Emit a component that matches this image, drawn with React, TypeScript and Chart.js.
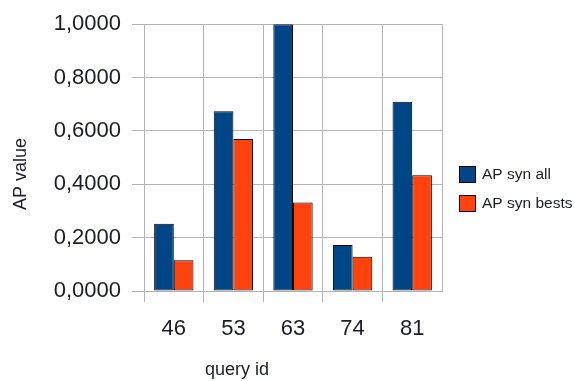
import React, { useEffect, useRef } from "react";
import { Chart, registerables } from "chart.js";

Chart.register(...registerables);

const categories = ["46", "53", "63", "74", "81"];
const apSynAll = [0.252, 0.674, 1.0, 0.172, 0.709];
const apSynBests = [0.115, 0.570, 0.332, 0.128, 0.434];
const seriesLabels = ["AP syn all", "AP syn bests"];
const seriesColors = ["#004586", "#ff420e"];
const yTitle = "AP value";
const xTitle = "query id";

const FONT = "'Liberation Sans', Arial, sans-serif";
const GRID = "#b3b3b3";
const TEXT = "#1c1c28";

const overlayPlugin = {
  id: "overlay",
  afterDraw(chart: any) {
    const ctx = chart.ctx;
    ctx.save();
    ctx.fillStyle = TEXT;
    // y title
    ctx.font = `18px ${FONT}`;
    ctx.textAlign = "center";
    ctx.textBaseline = "middle";
    ctx.save();
    ctx.translate(21, 174);
    ctx.rotate(-Math.PI / 2);
    ctx.fillText(yTitle, 0, 0);
    ctx.restore();
    // x title
    ctx.fillText(xTitle, 237, 370);
    // legend
    ctx.font = `15.5px ${FONT}`;
    ctx.textAlign = "left";
    chart.data.datasets.forEach((ds: any, i: number) => {
      const y = 166 + i * 29;
      ctx.fillStyle = ds.backgroundColor;
      ctx.fillRect(459.5, y + 0.5, 16, 16);
      ctx.strokeStyle = "#000";
      ctx.lineWidth = 1;
      ctx.strokeRect(459.5, y + 0.5, 16, 16);
      ctx.fillStyle = TEXT;
      ctx.fillText(ds.label, 482, y + 9);
    });
    ctx.restore();
  },
};

export default function App() {
  const ref = useRef<HTMLCanvasElement>(null);
  useEffect(() => {
    if (!ref.current) return;
    const chart = new Chart(ref.current, {
      type: "bar",
      data: {
        labels: categories,
        datasets: [
          {
            label: seriesLabels[0],
            data: apSynAll,
            backgroundColor: seriesColors[0],
            borderColor: "#000",
            borderWidth: 1,
            borderSkipped: false,
          },
          {
            label: seriesLabels[1],
            data: apSynBests,
            backgroundColor: seriesColors[1],
            borderColor: "#000",
            borderWidth: 1,
            borderSkipped: false,
          },
        ],
      },
      options: {
        responsive: false,
        animation: false,
        devicePixelRatio: 1,
        layout: { padding: { left: 0, top: 22, right: 133, bottom: 0 } },
        plugins: {
          legend: { display: false },
          tooltip: { enabled: false },
        },
        datasets: {
          bar: { categoryPercentage: 0.66, barPercentage: 1 },
        },
        scales: {
          x: {
            afterFit: (s: any) => {
              s.height = 90;
            },
            grid: {
              color: GRID,
              lineWidth: 1,
              tickLength: 11,
              tickColor: (c: any) => (c.index === undefined ? "transparent" : GRID),
            },
            border: { color: GRID },
            ticks: {
              color: TEXT,
              font: { family: FONT, size: 22 },
              padding: 14,
            },
          },
          y: {
            min: 0,
            max: 1,
            afterFit: (s: any) => {
              s.width = 144;
            },
            grid: { color: GRID, lineWidth: 1, tickLength: 12 },
            border: { color: GRID },
            ticks: {
              stepSize: 0.2,
              color: TEXT,
              font: { family: FONT, size: 22 },
              padding: 11,
              callback: (v: any) => Number(v).toFixed(4).replace(".", ","),
            },
          },
        },
      },
      plugins: [overlayPlugin],
    });
    return () => chart.destroy();
  }, []);
  return (
    <div style={{ position: "fixed", left: 0, top: 0, width: 575, height: 381, background: "#fff" }}>
      <canvas ref={ref} width={575} height={381} />
    </div>
  );
}
